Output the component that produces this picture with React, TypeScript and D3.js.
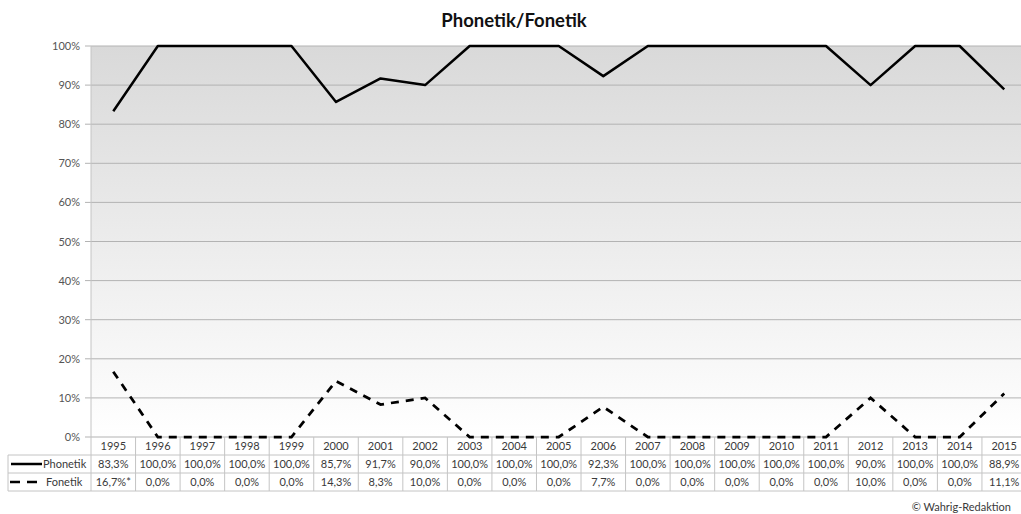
import React from "react";
import * as d3 from "d3";

const years = ["1995","1996","1997","1998","1999","2000","2001","2002","2003","2004","2005","2006","2007","2008","2009","2010","2011","2012","2013","2014","2015"];
const phonetik = [83.3,100,100,100,100,85.7,91.7,90,100,100,100,92.3,100,100,100,100,100,90,100,100,88.9];
const fonetik = [16.7,0,0,0,0,14.3,8.3,10,0,0,0,7.7,0,0,0,0,0,10,0,0,11.1];
const fonetikLabels = ["16,7%*","0,0%","0,0%","0,0%","0,0%","14,3%","8,3%","10,0%","0,0%","0,0%","0,0%","7,7%","0,0%","0,0%","0,0%","0,0%","0,0%","10,0%","0,0%","0,0%","11,1%"];
const yTicks = [0,10,20,30,40,50,60,70,80,90,100];
const title = "Phonetik/Fonetik";
const credit = "© Wahrig-Redaktion";

const W = 1021, H = 514;
const left = 91, right = 1026.5, top = 46, bottom = 437;
const rowH = 18;
const font = "Lato, 'Open Sans', sans-serif";

export default function App() {
  const x = d3.scaleBand<string>().domain(years).range([left, right]).padding(0);
  const y = d3.scaleLinear().domain([0, 100]).range([bottom, top]);
  const cx = (i: number) => (x(years[i]) as number) + x.bandwidth() / 2;
  const line = d3.line<number>().x((_, i) => cx(i)).y((d) => y(d));
  const fmt = (v: number) => d3.format(".1f")(v).replace(".", ",") + "%";
  const gridColor = "#b3b3b3";
  const tableColor = "#c4c4c4";
  const textColor = "#3a3a3a";
  const r1 = bottom, r2 = bottom + rowH, r3 = bottom + 2 * rowH, r4 = bottom + 3 * rowH;
  return (
    <svg width={W} height={H} style={{ position: "fixed", left: 0, top: 0, background: "#fff" }} fontFamily={font}>
      <defs>
        <linearGradient id="bg" x1="0" y1="0" x2="0" y2="1">
          <stop offset="0" stopColor="#d9d9d9" />
          <stop offset="1" stopColor="#ffffff" />
        </linearGradient>
      </defs>
      <text x={514} y={27} textAnchor="middle" fontSize={18.5} fontWeight="bold" fill="#111">{title}</text>
      <rect x={left} y={top} width={right - left} height={bottom - top} fill="url(#bg)" />
      {yTicks.map((t) => (
        <g key={t}>
          <line x1={left} x2={right} y1={y(t)} y2={y(t)} stroke={gridColor} strokeWidth={1} />
          <line x1={left - 6} x2={left} y1={y(t)} y2={y(t)} stroke={gridColor} strokeWidth={1} />
          <text x={80} y={y(t) + 4} textAnchor="end" fontSize={11} fill="#555">{t}%</text>
        </g>
      ))}
      <line x1={left} x2={left} y1={top} y2={r4} stroke={tableColor} />
      {/* table */}
      <line x1={8} x2={right} y1={r2} y2={r2} stroke={tableColor} />
      <line x1={8} x2={right} y1={r3} y2={r3} stroke={tableColor} />
      <line x1={8} x2={right} y1={r4} y2={r4} stroke={tableColor} />
      <line x1={8} x2={8} y1={r2} y2={r4} stroke={tableColor} />
      {years.map((yr, i) => (
        <g key={yr}>
          <line x1={(x(yr) as number) + x.bandwidth()} x2={(x(yr) as number) + x.bandwidth()} y1={r1} y2={r4} stroke={tableColor} />
          <text x={cx(i)} y={r1 + 13} textAnchor="middle" fontSize={11} fill={textColor}>{yr}</text>
          <text x={cx(i)} y={r2 + 13} textAnchor="middle" fontSize={11} fill={textColor}>{fmt(phonetik[i])}</text>
          <text x={cx(i)} y={r3 + 13} textAnchor="middle" fontSize={11} fill={textColor}>{fonetikLabels[i]}</text>
        </g>
      ))}
      <line x1={11} x2={42} y1={r2 + 9} y2={r2 + 9} stroke="#000" strokeWidth={2.5} />
      <text x={43} y={r2 + 13} fontSize={11} fill={textColor}>Phonetik</text>
      <line x1={10} x2={37} y1={r3 + 9} y2={r3 + 9} stroke="#000" strokeWidth={2.5} strokeDasharray="10,7" />
      <text x={46} y={r3 + 13} fontSize={11} fill={textColor}>Fonetik</text>
      <path d={line(phonetik) || ""} fill="none" stroke="#000" strokeWidth={2.5} strokeLinejoin="round" />
      <path d={line(fonetik) || ""} fill="none" stroke="#000" strokeWidth={2.75} strokeDasharray="8,7" />
      <text x={1011} y={511} textAnchor="end" fontSize={11} fill={textColor}>{credit}</text>
    </svg>
  );
}
